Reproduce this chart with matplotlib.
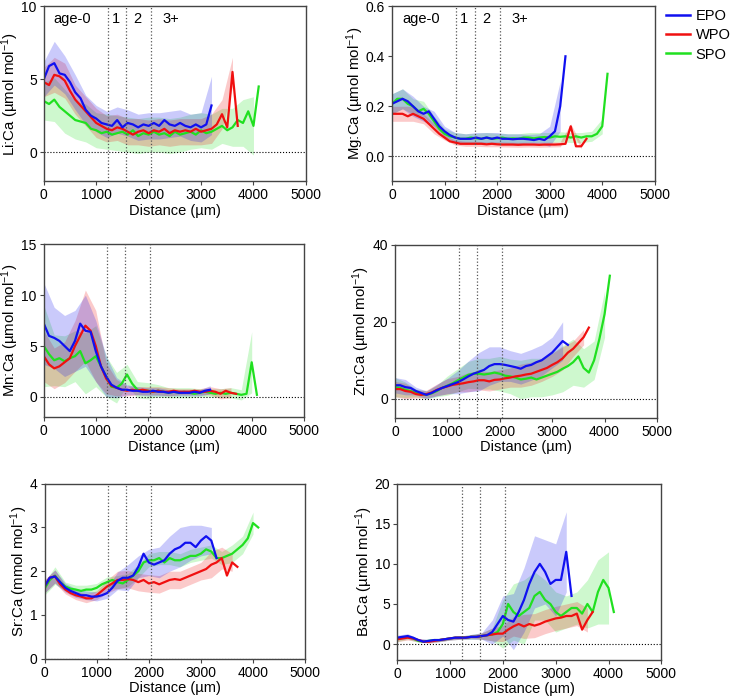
import numpy as np
import matplotlib
matplotlib.use('Agg')
import matplotlib.pyplot as plt
from matplotlib.lines import Line2D

plt.rcParams['font.family'] = ['Liberation Sans', 'DejaVu Sans']
plt.rcParams['mathtext.fontset'] = 'custom'
plt.rcParams['mathtext.rm'] = 'Liberation Sans'
plt.rcParams['mathtext.it'] = 'Liberation Sans:italic'

# sampled every 100 um from 0; sd values every 200 um from 0
step = 100
age_bounds = [1220, 1570, 2050]
age_labels = ['age-0', '1', '2', '3+']
age_label_x = [550, 1370, 1790, 2430]

series = ['EPO', 'WPO', 'SPO']
colors = {'EPO': '#1010f0', 'WPO': '#f01010', 'SPO': '#20e020'}

# Li:Ca
li_epo = [5.0, 5.9, 6.1, 5.4, 5.3, 4.8, 4.1, 3.7, 2.9, 2.5, 2.3, 2.0, 1.9, 1.8, 2.2, 1.7, 2.0,
          1.9, 1.7, 1.9, 1.8, 2.0, 1.8, 2.2, 1.9, 1.8, 2.0, 1.8, 1.7, 1.9, 1.7, 1.9, 3.2]
li_wpo = [4.8, 4.6, 5.3, 5.2, 4.9, 4.2, 3.6, 3.2, 2.8, 2.4, 2.0, 1.8, 1.6, 1.5, 1.7, 1.6, 1.4,
          1.2, 1.4, 1.5, 1.3, 1.5, 1.4, 1.6, 1.3, 1.5, 1.4, 1.5, 1.4, 1.6, 1.4, 1.5, 1.6, 1.9,
          2.6, 1.7, 5.5, 1.8]
li_spo = [3.5, 3.3, 3.6, 3.1, 2.8, 2.5, 2.2, 2.1, 2.0, 1.6, 1.5, 1.3, 1.4, 1.2, 1.3, 1.4, 1.2,
          1.5, 1.1, 1.3, 1.2, 1.4, 1.2, 1.3, 1.1, 1.4, 1.2, 1.3, 1.4, 1.2, 1.5, 1.3, 1.4, 1.6,
          1.8, 1.5, 1.7, 2.2, 2.0, 2.8, 1.8, 4.5]
li_epo_sd = [1.2, 1.5, 1.3, 1.2, 1.0, 0.9, 0.9, 0.9, 0.9, 0.9, 0.9, 0.9, 0.9, 0.9, 0.9, 1.0, 2.0]
li_wpo_sd = [1.0, 1.2, 1.2, 1.0, 1.0, 1.0, 0.9, 0.9, 0.9, 0.9, 0.9, 0.9, 0.9, 0.9, 0.9, 0.9,
             1.0, 1.0, 1.0]
li_spo_sd = [1.3, 1.5, 1.5, 1.3, 1.3, 1.2, 1.2, 1.2, 1.2, 1.2, 1.2, 1.2, 1.2, 1.2, 1.2, 1.2,
             1.2, 1.2, 1.3, 1.6, 2.0]

# Mg:Ca
mg_epo = [0.21, 0.22, 0.23, 0.22, 0.20, 0.18, 0.17, 0.18, 0.15, 0.12, 0.10, 0.085, 0.075, 0.07,
          0.07, 0.07, 0.075, 0.07, 0.075, 0.07, 0.075, 0.07, 0.07, 0.068, 0.07, 0.07, 0.068,
          0.065, 0.07, 0.065, 0.08, 0.10, 0.20, 0.40]
mg_wpo = [0.17, 0.17, 0.17, 0.16, 0.17, 0.16, 0.15, 0.13, 0.11, 0.09, 0.075, 0.06, 0.055, 0.05,
          0.05, 0.05, 0.05, 0.05, 0.048, 0.05, 0.048, 0.047, 0.047, 0.047, 0.046, 0.047, 0.047,
          0.047, 0.046, 0.047, 0.047, 0.047, 0.048, 0.05, 0.12, 0.04, 0.04, 0.07]
mg_spo = [0.21, 0.23, 0.23, 0.21, 0.20, 0.18, 0.19, 0.17, 0.14, 0.11, 0.09, 0.08, 0.075, 0.07,
          0.07, 0.075, 0.072, 0.07, 0.075, 0.07, 0.072, 0.075, 0.07, 0.072, 0.07, 0.075, 0.075,
          0.072, 0.075, 0.077, 0.075, 0.08, 0.078, 0.08, 0.075, 0.08, 0.075, 0.08, 0.08, 0.09,
          0.12, 0.33]
mg_epo_sd = [0.04, 0.04, 0.04, 0.03, 0.03, 0.02, 0.02, 0.02, 0.02, 0.02, 0.02, 0.02, 0.02, 0.02,
             0.02, 0.04, 0.10]
mg_wpo_sd = [0.03, 0.03, 0.03, 0.02, 0.02, 0.01, 0.01, 0.01, 0.01, 0.01, 0.01, 0.01, 0.01, 0.01,
             0.01, 0.01, 0.01, 0.01, 0.01]
mg_spo_sd = [0.04, 0.04, 0.03, 0.03, 0.02, 0.02, 0.02, 0.02, 0.02, 0.02, 0.02, 0.02, 0.02, 0.02,
             0.02, 0.02, 0.02, 0.02, 0.02, 0.02, 0.03]

# Mn:Ca
mn_epo = [7.2, 6.0, 5.8, 5.5, 5.0, 4.5, 5.5, 7.2, 6.5, 6.4, 4.5, 3.0, 2.0, 1.2, 0.9, 0.7, 0.7,
          0.6, 0.6, 0.5, 0.5, 0.6, 0.5, 0.5, 0.4, 0.5, 0.4, 0.4, 0.4, 0.5, 0.4, 0.6, 0.7]
mn_wpo = [4.0, 3.2, 2.8, 3.0, 3.4, 3.8, 5.0, 6.0, 7.0, 6.5, 5.0, 3.0, 1.8, 1.1, 0.9, 0.7, 0.6,
          0.7, 0.6, 0.7, 0.6, 0.5, 0.6, 0.5, 0.5, 0.6, 0.5, 0.5, 0.5, 0.6, 0.5, 0.5, 0.6, 0.5,
          0.3, 0.6, 0.4, 0.3]
mn_spo = [5.0, 4.2, 3.6, 3.8, 3.5, 3.8, 4.0, 4.5, 3.3, 3.6, 4.0, 3.0, 2.0, 1.0, 0.9, 1.3, 2.2,
          1.3, 0.7, 0.6, 0.6, 0.5, 0.6, 0.5, 0.4, 0.5, 0.4, 0.5, 0.4, 0.3, 0.4, 0.5, 0.4, 0.3,
          0.4, 0.3, 0.4, 0.3, 0.2, 0.3, 3.4, 0.2]
mn_epo_sd = [4.0, 3.0, 3.0, 3.0, 3.5, 3.0, 2.0, 1.0, 0.5, 0.4, 0.4, 0.4, 0.3, 0.3, 0.3, 0.3, 0.4]
mn_wpo_sd = [2.5, 2.0, 2.0, 2.5, 3.5, 3.5, 1.5, 0.8, 0.5, 0.4, 0.4, 0.4, 0.4, 0.3, 0.3, 0.3,
             0.4, 0.5, 0.5]
mn_spo_sd = [4.0, 2.5, 2.5, 2.5, 3.0, 3.0, 2.0, 1.5, 1.0, 0.8, 0.8, 0.6, 0.5, 0.5, 0.5, 0.4,
             0.4, 0.4, 0.5, 0.5, 3.0]

# Zn:Ca
zn_epo = [3.5, 3.5, 3.0, 2.8, 2.0, 1.5, 1.0, 1.5, 2.2, 2.8, 3.3, 3.8, 4.3, 5.0, 5.8, 6.5, 7.0,
          7.5, 8.5, 9.0, 9.0, 8.8, 8.5, 8.2, 7.8, 8.5, 8.8, 9.5, 10.0, 11.0, 12.0, 13.5, 15.0, 14.0]
zn_wpo = [2.5, 2.5, 2.0, 1.8, 1.2, 1.0, 1.2, 1.6, 2.3, 2.8, 3.2, 3.6, 3.8, 4.0, 4.3, 4.5, 4.8,
          4.8, 4.5, 4.9, 5.0, 5.3, 5.5, 5.8, 6.0, 6.3, 6.5, 7.0, 7.5, 8.0, 8.8, 9.5, 10.5, 12.0,
          13.0, 14.5, 16.0, 18.5]
zn_spo = [3.0, 2.8, 2.3, 2.0, 1.5, 1.2, 1.0, 1.4, 2.0, 2.8, 3.4, 4.0, 4.8, 5.5, 6.2, 6.5, 6.5,
          6.3, 6.5, 6.8, 6.5, 6.0, 5.8, 5.5, 5.0, 5.2, 5.5, 5.0, 5.5, 6.0, 6.5, 7.0, 7.8, 8.5,
          9.5, 11.0, 8.0, 6.8, 10.0, 15.5, 22.0, 32.0]
zn_epo_sd = [2.0, 2.0, 1.0, 1.0, 1.5, 2.0, 3.0, 4.0, 5.0, 5.0, 4.5, 4.0, 4.0, 4.0, 4.0, 4.0, 5.0]
zn_wpo_sd = [2.0, 2.0, 1.0, 1.0, 1.5, 2.0, 2.0, 2.5, 2.5, 2.5, 2.5, 2.5, 3.0, 3.0, 3.0, 3.0,
             3.0, 2.0, 2.0]
zn_spo_sd = [2.5, 2.0, 1.0, 1.0, 1.5, 2.5, 3.0, 3.5, 4.0, 4.0, 4.5, 4.5, 5.0, 5.0, 5.0, 5.5,
             6.0, 6.0, 5.0, 5.0, 6.0]

# Sr:Ca
sr_epo = [1.65, 1.85, 1.88, 1.75, 1.62, 1.55, 1.50, 1.45, 1.45, 1.42, 1.42, 1.45, 1.50, 1.62,
          1.78, 1.85, 1.85, 1.90, 2.10, 2.40, 2.20, 2.15, 2.20, 2.25, 2.40, 2.50, 2.55, 2.65,
          2.65, 2.55, 2.70, 2.80, 2.70, 2.30]
sr_wpo = [1.65, 1.85, 1.88, 1.70, 1.58, 1.50, 1.45, 1.42, 1.38, 1.38, 1.45, 1.55, 1.65, 1.72,
          1.80, 1.80, 1.82, 1.80, 1.75, 1.80, 1.72, 1.75, 1.70, 1.75, 1.80, 1.82, 1.80, 1.85,
          1.90, 1.95, 2.00, 2.05, 2.15, 2.20, 2.30, 1.90, 2.20, 2.10]
sr_spo = [1.60, 1.80, 1.90, 1.75, 1.65, 1.60, 1.58, 1.55, 1.58, 1.58, 1.62, 1.70, 1.75, 1.80,
          1.75, 1.72, 1.80, 1.90, 2.00, 2.20, 2.25, 2.25, 2.30, 2.20, 2.30, 2.25, 2.25, 2.30,
          2.35, 2.35, 2.40, 2.50, 2.45, 2.30, 2.30, 2.35, 2.40, 2.50, 2.60, 2.75, 3.10, 3.00]
sr_epo_sd = [0.15, 0.15, 0.10, 0.10, 0.10, 0.10, 0.12, 0.20, 0.30, 0.25, 0.30, 0.35, 0.40, 0.45,
             0.40, 0.35, 0.30]
sr_wpo_sd = [0.15, 0.15, 0.10, 0.10, 0.10, 0.10, 0.15, 0.20, 0.20, 0.20, 0.20, 0.20, 0.20, 0.20,
             0.20, 0.20, 0.30, 0.25, 0.20]
sr_spo_sd = [0.15, 0.20, 0.10, 0.10, 0.10, 0.10, 0.12, 0.15, 0.15, 0.15, 0.15, 0.15, 0.15, 0.15,
             0.15, 0.15, 0.15, 0.15, 0.20, 0.20, 0.25]

# Ba:Ca
ba_epo = [0.8, 0.9, 1.0, 0.8, 0.5, 0.3, 0.4, 0.5, 0.5, 0.6, 0.7, 0.8, 0.8, 0.8, 0.9, 0.9, 1.0,
          1.1, 1.5, 2.5, 3.5, 3.0, 2.8, 4.0, 5.5, 7.5, 9.0, 10.0, 9.0, 7.5, 8.0, 8.0, 11.5, 6.0]
ba_wpo = [0.6, 0.7, 0.8, 0.7, 0.5, 0.3, 0.3, 0.4, 0.5, 0.6, 0.7, 0.8, 0.8, 0.8, 0.9, 0.9, 1.0,
          1.1, 1.2, 1.3, 1.3, 1.8, 2.2, 2.5, 2.2, 2.5, 2.3, 2.5, 2.8, 3.0, 3.2, 3.3, 3.5, 3.5,
          3.8, 1.8, 3.0, 4.0]
ba_spo = [0.6, 0.8, 0.9, 0.7, 0.4, 0.3, 0.4, 0.5, 0.5, 0.6, 0.7, 0.8, 0.8, 0.8, 0.9, 0.9, 1.0,
          1.1, 1.2, 1.5, 2.5, 5.0, 4.0, 3.5, 4.0, 4.5, 6.0, 6.5, 5.5, 5.0, 4.0, 3.5, 4.0, 4.5,
          4.5, 3.8, 5.0, 4.0, 6.5, 8.0, 7.0, 4.0]
ba_epo_sd = [0.3, 0.3, 0.2, 0.2, 0.2, 0.2, 0.2, 0.3, 0.4, 1.5, 2.5, 3.5, 4.0, 4.5, 4.0, 4.5, 5.0]
ba_wpo_sd = [0.3, 0.3, 0.2, 0.2, 0.2, 0.2, 0.2, 0.2, 0.4, 0.8, 1.0, 1.2, 1.5, 1.5, 1.5, 1.5,
             1.5, 1.5, 1.5]
ba_spo_sd = [0.3, 0.3, 0.2, 0.2, 0.2, 0.2, 0.2, 0.3, 0.4, 0.8, 3.0, 3.5, 4.0, 3.0, 2.5, 2.5,
             2.0, 2.0, 3.0, 4.0, 4.5]

panels = [
    ('Li:Ca (µmol mol$^{-1}$)', (-2, 10), [0, 5, 10], '{:.0f}',
     (li_epo, li_wpo, li_spo), (li_epo_sd, li_wpo_sd, li_spo_sd)),
    ('Mg:Ca (µmol mol$^{-1}$)', (-0.1, 0.6), [0.0, 0.2, 0.4, 0.6], '{:.1f}',
     (mg_epo, mg_wpo, mg_spo), (mg_epo_sd, mg_wpo_sd, mg_spo_sd)),
    ('Mn:Ca (µmol mol$^{-1}$)', (-2, 15), [0, 5, 10, 15], '{:.0f}',
     (mn_epo, mn_wpo, mn_spo), (mn_epo_sd, mn_wpo_sd, mn_spo_sd)),
    ('Zn:Ca (µmol mol$^{-1}$)', (-5, 40), [0, 20, 40], '{:.0f}',
     (zn_epo, zn_wpo, zn_spo), (zn_epo_sd, zn_wpo_sd, zn_spo_sd)),
    ('Sr:Ca (mmol mol$^{-1}$)', (0, 4), [0, 1, 2, 3, 4], '{:.0f}',
     (sr_epo, sr_wpo, sr_spo), (sr_epo_sd, sr_wpo_sd, sr_spo_sd)),
    ('Ba.Ca (µmol mol$^{-1}$)', (-2, 20), [0, 5, 10, 15, 20], '{:.0f}',
     (ba_epo, ba_wpo, ba_spo), (ba_epo_sd, ba_wpo_sd, ba_spo_sd)),
]

# axes boxes in figure fractions: left, bottom, width, height
boxes = [
    (0.060, 0.741, 0.359, 0.250),
    (0.537, 0.741, 0.360, 0.250),
    (0.060, 0.404, 0.356, 0.247),
    (0.541, 0.403, 0.359, 0.247),
    (0.061, 0.059, 0.357, 0.250),
    (0.544, 0.057, 0.362, 0.252),
]

fig = plt.figure(figsize=(7.3, 7.0), dpi=100)

for i, (ylab, ylim, yticks, fmt, means, sds) in enumerate(panels):
    ax = fig.add_axes(boxes[i])
    # draw SPO first, EPO last (on top)
    for k in [2, 1, 0]:
        name = series[k]
        m = np.array(means[k])
        x = step * np.arange(len(m))
        xs = x[::2]
        sd = np.array(sds[k])
        ax.fill_between(xs, m[::2] - sd, m[::2] + sd, color=colors[name],
                        alpha=0.22, lw=0)
    for k in [2, 1, 0]:
        name = series[k]
        m = np.array(means[k])
        x = step * np.arange(len(m))
        ax.plot(x, m, color=colors[name], lw=1.6)
    for xb in age_bounds:
        ax.axvline(xb, color='#555555', ls=':', lw=0.9)
    ax.axhline(0, color='black', ls=':', lw=0.8)
    ax.set_xlim(0, 5000)
    ax.set_ylim(*ylim)
    ax.set_xticks([0, 1000, 2000, 3000, 4000, 5000])
    ax.set_yticks(yticks)
    ax.set_yticklabels([fmt.format(t) for t in yticks])
    ax.tick_params(labelsize=10, length=3, width=0.8, color='#444444', pad=2)
    for sp in ax.spines.values():
        sp.set_color('#444444')
        sp.set_linewidth(1.0)
    ax.set_xlabel('Distance (µm)', fontsize=10.5, labelpad=1)
    ax.set_ylabel(ylab, fontsize=10.8, labelpad=0)
    if i < 2:
        for lx, lt in zip(age_label_x, age_labels):
            ax.text(lx, ylim[1] - 0.07 * (ylim[1] - ylim[0]), lt, ha='center',
                    va='center', fontsize=10.5)

handles = [Line2D([], [], color=colors[s], lw=1.8) for s in series]
fig.legend(handles, series, loc='upper left', bbox_to_anchor=(0.905, 0.995),
           frameon=False, fontsize=10.5, handlelength=1.6, handletextpad=0.4,
           labelspacing=0.35, borderaxespad=0)

fig.savefig('out.png', dpi=100)
